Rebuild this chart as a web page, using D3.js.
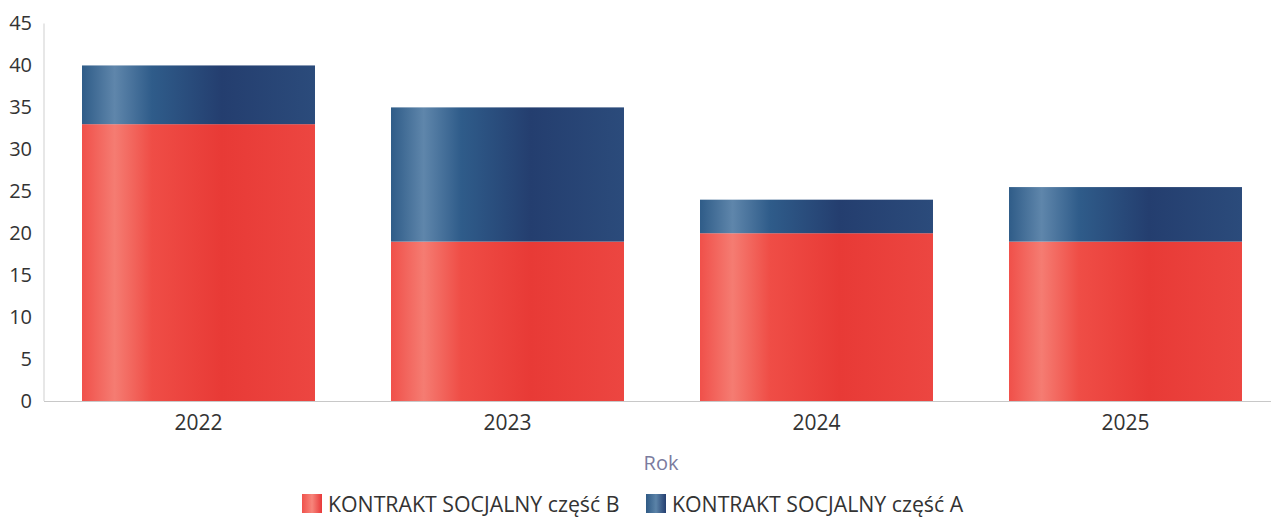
<!DOCTYPE html>
<html><head><meta charset="utf-8">
<script src="https://cdn.jsdelivr.net/npm/d3@7"></script>
<style>
body{margin:0;background:#fff;font-family:"Open Sans",sans-serif;}
</style></head>
<body><svg id="c" width="1271" height="518"></svg>
<script>
const years = ["2022","2023","2024","2025"];
const partB = [33, 19, 20, 19];
const partA = [7, 16, 4, 6.5];
const seriesNames = ["KONTRAKT SOCJALNY część B","KONTRAKT SOCJALNY część A"];
const yTicks = [0,5,10,15,20,25,30,35,40,45];

const svg = d3.select("#c");
const x0 = 44, yBase = 401;
const x = d3.scaleBand().domain(years).range([x0, 1280]).paddingInner(0.246).paddingOuter(0.123);
const y = d3.scaleLinear().domain([0,45]).range([yBase, 23.5]);

const defs = svg.append("defs");
function grad(id, stops){
  const g = defs.append("linearGradient").attr("id",id).attr("x1","0").attr("x2","1").attr("y1","0").attr("y2","0");
  stops.forEach(s=>g.append("stop").attr("offset",s[0]).attr("stop-color",s[1]));
}
grad("gB",[[0,"#f0504a"],[0.14,"#f57c72"],[0.3,"#ef4d46"],[0.6,"#e83a36"],[1,"#ec4641"]]);
grad("gA",[[0,"#2f5c88"],[0.14,"#5f86ab"],[0.3,"#2f5c8a"],[0.6,"#243e6f"],[1,"#2b4b7b"]]);
grad("lB",[[0,"#f0524c"],[0.5,"#f7857b"],[1,"#e8393a"]]);
grad("lA",[[0,"#2f5a85"],[0.5,"#5b83a8"],[1,"#253f70"]]);

svg.append("line").attr("x1",x0).attr("x2",x0).attr("y1",y(45)).attr("y2",yBase).attr("stroke","#cfcfcf").attr("stroke-width",1);

const data = years.map((yr,i)=>({yr, b:partB[i], a:partA[i]}));
const g = svg.append("g");
g.selectAll("rect.b").data(data).join("rect").attr("class","b")
  .attr("x",d=>x(d.yr)).attr("width",x.bandwidth())
  .attr("y",d=>y(d.b)).attr("height",d=>yBase-y(d.b)).attr("fill","url(#gB)");
g.selectAll("rect.a").data(data).join("rect").attr("class","a")
  .attr("x",d=>x(d.yr)).attr("width",x.bandwidth())
  .attr("y",d=>y(d.b+d.a)).attr("height",d=>y(d.b)-y(d.b+d.a)).attr("fill","url(#gA)");

svg.append("line").attr("x1",x0).attr("x2",1271).attr("y1",yBase+0.5).attr("y2",yBase+0.5).attr("stroke","#c8c8c8").attr("stroke-width",1);

const ya = svg.append("g").attr("transform",`translate(${x0},0)`)
  .call(d3.axisLeft(y).tickValues(yTicks).tickSize(0).tickPadding(12));
ya.select(".domain").remove();
ya.selectAll("text").attr("font-size","20px").attr("fill","#333").attr("font-family","Open Sans");

const xa = svg.append("g").attr("transform",`translate(0,${yBase})`)
  .call(d3.axisBottom(x).tickSize(0).tickPadding(14));
xa.select(".domain").remove();
xa.selectAll("text").attr("font-size","21px").attr("fill","#333").attr("font-family","Open Sans");

svg.append("text").attr("x",661).attr("y",470).attr("text-anchor","middle")
  .attr("font-size","20px").attr("fill","#7b7b9e").text("Rok");

const leg = [{n:seriesNames[0],f:"url(#lB)",x:302},{n:seriesNames[1],f:"url(#lA)",x:646}];
const lg = svg.selectAll("g.leg").data(leg).join("g").attr("class","leg").attr("transform",d=>`translate(${d.x},494)`);
lg.append("rect").attr("width",20).attr("height",19).attr("fill",d=>d.f);
lg.append("text").attr("x",26).attr("y",18).attr("font-size","21.3px").attr("fill","#333").text(d=>d.n);
</script></body></html>
